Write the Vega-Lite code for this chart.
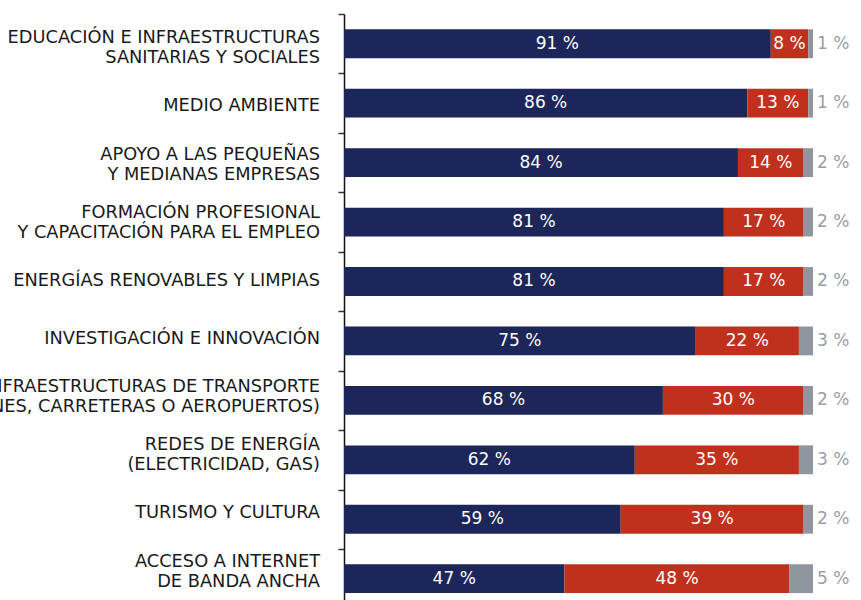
{
  "$schema": "https://vega.github.io/schema/vega-lite/v6.json",
  "width": 469,
  "height": 586,
  "autosize": {"type": "none"},
  "padding": {"left": 344, "top": 14, "right": 48, "bottom": 0},
  "background": "white",
  "config": {"view": {"stroke": null}, "font": "DejaVu Sans"},
  "data": {
    "values": [
      {"tema": "EDUCACIÓN E INFRAESTRUCTURAS|SANITARIAS Y SOCIALES", "lineas": 2, "resp": "Sí", "k": 1, "value": 91},
      {"tema": "EDUCACIÓN E INFRAESTRUCTURAS|SANITARIAS Y SOCIALES", "lineas": 2, "resp": "No", "k": 2, "value": 8},
      {"tema": "EDUCACIÓN E INFRAESTRUCTURAS|SANITARIAS Y SOCIALES", "lineas": 2, "resp": "NS/NC", "k": 3, "value": 1},
      {"tema": "MEDIO AMBIENTE", "lineas": 1, "resp": "Sí", "k": 1, "value": 86},
      {"tema": "MEDIO AMBIENTE", "lineas": 1, "resp": "No", "k": 2, "value": 13},
      {"tema": "MEDIO AMBIENTE", "lineas": 1, "resp": "NS/NC", "k": 3, "value": 1},
      {"tema": "APOYO A LAS PEQUEÑAS|Y MEDIANAS EMPRESAS", "lineas": 2, "resp": "Sí", "k": 1, "value": 84},
      {"tema": "APOYO A LAS PEQUEÑAS|Y MEDIANAS EMPRESAS", "lineas": 2, "resp": "No", "k": 2, "value": 14},
      {"tema": "APOYO A LAS PEQUEÑAS|Y MEDIANAS EMPRESAS", "lineas": 2, "resp": "NS/NC", "k": 3, "value": 2},
      {"tema": "FORMACIÓN PROFESIONAL|Y CAPACITACIÓN PARA EL EMPLEO", "lineas": 2, "resp": "Sí", "k": 1, "value": 81},
      {"tema": "FORMACIÓN PROFESIONAL|Y CAPACITACIÓN PARA EL EMPLEO", "lineas": 2, "resp": "No", "k": 2, "value": 17},
      {"tema": "FORMACIÓN PROFESIONAL|Y CAPACITACIÓN PARA EL EMPLEO", "lineas": 2, "resp": "NS/NC", "k": 3, "value": 2},
      {"tema": "ENERGÍAS RENOVABLES Y LIMPIAS", "lineas": 1, "resp": "Sí", "k": 1, "value": 81},
      {"tema": "ENERGÍAS RENOVABLES Y LIMPIAS", "lineas": 1, "resp": "No", "k": 2, "value": 17},
      {"tema": "ENERGÍAS RENOVABLES Y LIMPIAS", "lineas": 1, "resp": "NS/NC", "k": 3, "value": 2},
      {"tema": "INVESTIGACIÓN E INNOVACIÓN", "lineas": 1, "resp": "Sí", "k": 1, "value": 75},
      {"tema": "INVESTIGACIÓN E INNOVACIÓN", "lineas": 1, "resp": "No", "k": 2, "value": 22},
      {"tema": "INVESTIGACIÓN E INNOVACIÓN", "lineas": 1, "resp": "NS/NC", "k": 3, "value": 3},
      {"tema": "INFRAESTRUCTURAS DE TRANSPORTE|(TRENES, CARRETERAS O AEROPUERTOS)", "lineas": 2, "resp": "Sí", "k": 1, "value": 68},
      {"tema": "INFRAESTRUCTURAS DE TRANSPORTE|(TRENES, CARRETERAS O AEROPUERTOS)", "lineas": 2, "resp": "No", "k": 2, "value": 30},
      {"tema": "INFRAESTRUCTURAS DE TRANSPORTE|(TRENES, CARRETERAS O AEROPUERTOS)", "lineas": 2, "resp": "NS/NC", "k": 3, "value": 2},
      {"tema": "REDES DE ENERGÍA|(ELECTRICIDAD, GAS)", "lineas": 2, "resp": "Sí", "k": 1, "value": 62},
      {"tema": "REDES DE ENERGÍA|(ELECTRICIDAD, GAS)", "lineas": 2, "resp": "No", "k": 2, "value": 35},
      {"tema": "REDES DE ENERGÍA|(ELECTRICIDAD, GAS)", "lineas": 2, "resp": "NS/NC", "k": 3, "value": 3},
      {"tema": "TURISMO Y CULTURA", "lineas": 1, "resp": "Sí", "k": 1, "value": 59},
      {"tema": "TURISMO Y CULTURA", "lineas": 1, "resp": "No", "k": 2, "value": 39},
      {"tema": "TURISMO Y CULTURA", "lineas": 1, "resp": "NS/NC", "k": 3, "value": 2},
      {"tema": "ACCESO A INTERNET|DE BANDA ANCHA", "lineas": 2, "resp": "Sí", "k": 1, "value": 47},
      {"tema": "ACCESO A INTERNET|DE BANDA ANCHA", "lineas": 2, "resp": "No", "k": 2, "value": 48},
      {"tema": "ACCESO A INTERNET|DE BANDA ANCHA", "lineas": 2, "resp": "NS/NC", "k": 3, "value": 5}
    ]
  },
  "transform": [
    {"stack": "value", "groupby": ["tema"], "sort": [{"field": "k", "order": "ascending"}], "as": ["v0", "v1"]},
    {"calculate": "(datum.v0 + datum.v1) / 2", "as": "mid"},
    {"calculate": "datum.value + ' %'", "as": "lbl"}
  ],
  "resolve": {"scale": {"y": "independent"}, "axis": {"y": "independent"}},
  "layer": [
    {
      "encoding": {
        "y": {
          "field": "tema",
          "type": "nominal",
          "sort": [
            "EDUCACIÓN E INFRAESTRUCTURAS|SANITARIAS Y SOCIALES",
            "MEDIO AMBIENTE",
            "APOYO A LAS PEQUEÑAS|Y MEDIANAS EMPRESAS",
            "FORMACIÓN PROFESIONAL|Y CAPACITACIÓN PARA EL EMPLEO",
            "ENERGÍAS RENOVABLES Y LIMPIAS",
            "INVESTIGACIÓN E INNOVACIÓN",
            "INFRAESTRUCTURAS DE TRANSPORTE|(TRENES, CARRETERAS O AEROPUERTOS)",
            "REDES DE ENERGÍA|(ELECTRICIDAD, GAS)",
            "TURISMO Y CULTURA",
            "ACCESO A INTERNET|DE BANDA ANCHA"
          ],
          "scale": {"range": [0, 594.4], "paddingInner": 0, "paddingOuter": 0},
          "axis": {
            "title": null,
            "labels": false,
            "tickSize": 6,
            "tickBand": "extent",
            "tickColor": "#333333",
            "tickWidth": 1.5,
            "domainColor": "#111111",
            "domainWidth": 1.5
          }
        }
      },
      "layer": [
        {
          "mark": {"type": "bar", "height": {"band": 0.485}},
          "encoding": {
            "x": {"field": "v0", "type": "quantitative", "scale": {"domain": [0, 100]}, "axis": null},
            "x2": {"field": "v1"},
            "color": {
              "field": "resp",
              "type": "nominal",
              "scale": {"domain": ["Sí", "No", "NS/NC"], "range": ["#1c2658", "#c0311d", "#8f969e"]},
              "legend": null
            }
          }
        },
        {
          "transform": [{"filter": "datum.k < 3"}],
          "mark": {"type": "text", "color": "white", "fontSize": 17, "font": "DejaVu Sans"},
          "encoding": {
            "x": {"field": "mid", "type": "quantitative"},
            "text": {"field": "lbl"}
          }
        },
        {
          "transform": [{"filter": "datum.k == 3"}],
          "mark": {"type": "text", "color": "#979ea5", "fontSize": 17, "font": "DejaVu Sans", "align": "left", "dx": 4},
          "encoding": {
            "x": {"field": "v1", "type": "quantitative"},
            "text": {"field": "lbl"}
          }
        }
      ]
    },
    {
      "encoding": {
        "y": {
          "field": "tema",
          "type": "nominal",
          "sort": [
            "EDUCACIÓN E INFRAESTRUCTURAS|SANITARIAS Y SOCIALES",
            "MEDIO AMBIENTE",
            "APOYO A LAS PEQUEÑAS|Y MEDIANAS EMPRESAS",
            "FORMACIÓN PROFESIONAL|Y CAPACITACIÓN PARA EL EMPLEO",
            "ENERGÍAS RENOVABLES Y LIMPIAS",
            "INVESTIGACIÓN E INNOVACIÓN",
            "INFRAESTRUCTURAS DE TRANSPORTE|(TRENES, CARRETERAS O AEROPUERTOS)",
            "REDES DE ENERGÍA|(ELECTRICIDAD, GAS)",
            "TURISMO Y CULTURA",
            "ACCESO A INTERNET|DE BANDA ANCHA"
          ],
          "scale": {"range": [5.2, 586.7], "paddingInner": 0, "paddingOuter": 0},
          "axis": null
        }
      },
      "layer": [
        {
          "transform": [{"filter": "datum.k == 1 && datum.lineas == 1"}],
          "mark": {"type": "text", "color": "#1a1a1a", "fontSize": 17.8, "font": "DejaVu Sans", "align": "right", "baseline": "middle", "dx": -24},
          "encoding": {
            "x": {"datum": 0, "type": "quantitative"},
            "text": {"field": "tema"}
          }
        },
        {
          "transform": [{"filter": "datum.k == 1 && datum.lineas == 2"}],
          "mark": {"type": "text", "color": "#1a1a1a", "fontSize": 17.8, "font": "DejaVu Sans", "align": "right", "baseline": "middle", "dx": -24, "dy": -10, "lineBreak": "|", "lineHeight": 20},
          "encoding": {
            "x": {"datum": 0, "type": "quantitative"},
            "text": {"field": "tema"}
          }
        }
      ]
    }
  ]
}
